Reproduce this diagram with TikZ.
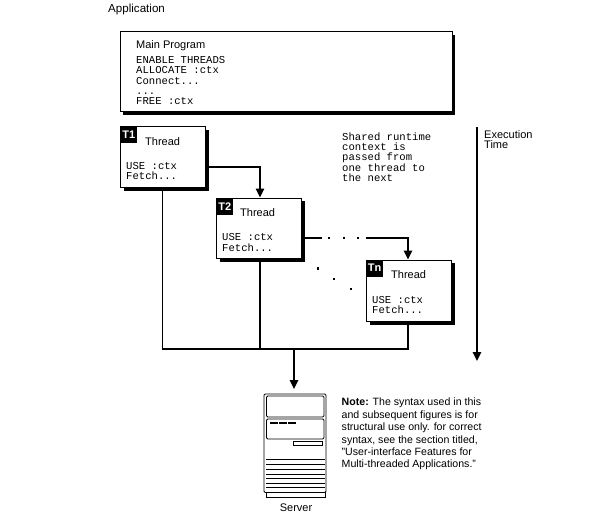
\documentclass[tikz,border=0pt]{standalone}
\usepackage{fontspec}
\setmainfont{Liberation Sans}
\newfontfamily\codefont{Liberation Mono}
\usetikzlibrary{arrows.meta,shadows}
\tikzset{
  flow/.style={line width=1.6pt,draw=black},
  tip/.style={flow,-{Triangle[width=8.5pt,length=9pt]}},
  shadowbox/.style={draw=black,line width=0.9pt,fill=white,anchor=north west,inner sep=0pt,
    drop shadow={shadow xshift=3.5pt,shadow yshift=-3.5pt,opacity=1,fill=black}},
  badge/.style={fill=black,text=white,anchor=north west,minimum size=17pt,inner sep=0pt,
    font=\fontsize{11}{11}\selectfont\bfseries},
  sans/.style={anchor=base west,inner sep=0pt,font=\fontsize{11}{11}\selectfont},
  code/.style={anchor=north west,inner sep=0pt,align=left,font=\fontsize{10.6}{10.3}\selectfont\codefont},
  note/.style={anchor=north west,inner sep=0pt,align=left,font=\fontsize{10.6}{12.4}\selectfont},
  part/.style={draw=black,line width=0.9pt,rounded corners=1.2pt},
  thin part/.style={draw=black,line width=0.9pt},
  speck/.style={fill=black,minimum size=2.2pt,inner sep=0pt}
}
\begin{document}
\begin{tikzpicture}[x=1pt,y=-1pt]
  \useasboundingbox[fill=white] (0,0) rectangle (605,524);

  \node[sans,font=\fontsize{11.6}{11.6}\selectfont] (app) at (108,13) {Application};

  % main program panel
  \node[shadowbox,minimum width=332pt,minimum height=80pt] (main) at (119.5,31) {};
  \node[sans] (maintitle) at (136,49) {Main Program};
  \node[code] (maincode) at (136,56.2) {ENABLE THREADS\\ALLOCATE :ctx\\Connect...\\...\\FREE :ctx};

  % thread boxes
  \node[shadowbox,minimum width=85pt,minimum height=61pt] (t1) at (120,126) {};
  \node[badge] (t1tag) at (120,126) {T1};
  \node[sans] (t1name) at (145,146) {Thread};
  \node[code] (t1code) at (126,162) {USE :ctx\\Fetch...};

  \node[shadowbox,minimum width=85pt,minimum height=60.5pt] (t2) at (216,197.5) {};
  \node[badge] (t2tag) at (216,197.5) {T2};
  \node[sans] (t2name) at (240,216) {Thread};
  \node[code] (t2code) at (222,233.5) {USE :ctx\\Fetch...};

  \node[shadowbox,minimum width=85pt,minimum height=61.5pt] (tn) at (366,259.5) {};
  \node[badge] (tntag) at (366,259.5) {Tn};
  \node[sans] (tnname) at (391,278) {Thread};
  \node[code] (tncode) at (372,296) {USE :ctx\\Fetch...};

  % common bus positions
  \coordinate (busa) at (162.5,349);
  \coordinate (busb) at (260,349);
  \coordinate (busc) at (408,349);
  \coordinate (busd) at (294,349);

  % hand-over between threads
  \draw[tip] ([yshift=-10pt]t1.east) -| (t2.north -| busb);
  \coordinate (gapa) at (322,237.7);
  \coordinate (gapb) at (366,237.7);
  \draw[flow] ([yshift=-9.5pt]t2.east) -- (gapa);
  \draw[tip] (gapb) -| (tn.north -| busc);
  \node[speck] (da) at (329,237.7) {};
  \node[speck] (db) at (344,237.7) {};
  \node[speck] (dc) at (358,237.7) {};
  \node[speck] (dd) at (318,268.5) {};
  \node[speck] (de) at (334,279) {};
  \node[speck] (df) at (351,289) {};

  % common bus down to the server
  \draw[flow] (t1.south -| busa) -- (busa);
  \draw[flow] (t2.south -| busb) -- (busb);
  \draw[flow] (tn.south -| busc) -- (busc);
  \draw[flow] ([xshift=-0.8pt]busa) -- ([xshift=0.8pt]busc);
  \coordinate (srvtop) at (294,389);
  \draw[tip] (busd) -- (srvtop);

  % server cabinet
  \draw[part] (264,394) rectangle (326,492.5);
  \draw[part] (266.5,396) rectangle (324,417);
  \draw[part] (266.5,419) rectangle (324,439);
  \fill (270,422) rectangle (278,424);
  \fill (279,422) rectangle (287,424);
  \fill (288,422) rectangle (296,424);
  \draw[thin part] (293,441) rectangle (322.5,445);
  \foreach \yy in {459,464,469,474,478,483,487}
    \draw[thin part] (266,\yy) -- (325,\yy);
  \draw[thin part] (266.5,492.5) rectangle (325,497);
  \node[sans,anchor=base] (server) at (296,511) {Server};

  % running notes
  \node[code] (shared) at (342,132.5) {Shared runtime\\context is\\passed from\\one thread to\\the next};
  \coordinate (timetop) at (477,127);
  \coordinate (timeend) at (477,361);
  \draw[tip] (timetop) -- (timeend);
  \node[note,font=\fontsize{11}{10.5}\selectfont] (exec) at (484,130) {Execution\\Time};
  \node[note] (syntax) at (341.5,398) {\textbf{Note:} The syntax used in this\\and subsequent figures is for\\structural use only. for correct\\syntax, see the section titled,\\"User-interface Features for\\Multi-threaded Applications."};
\end{tikzpicture}
\end{document}
